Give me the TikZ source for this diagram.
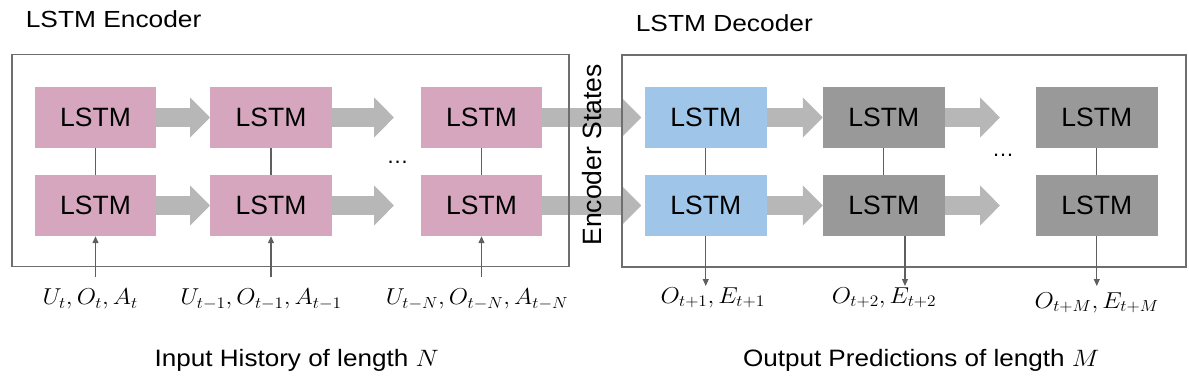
\documentclass[tikz,border=0pt]{standalone}
\usepackage{fix-cm}
\usepackage[no-math]{fontspec}
\usepackage{graphicx}
\newfontfamily\arial{Liberation Sans}
\usetikzlibrary{arrows.meta}
\definecolor{pinkc}{HTML}{D5A6BD}
\definecolor{bluec}{HTML}{9FC5E8}
\definecolor{grayc}{HTML}{999999}
\definecolor{arrowc}{HTML}{B7B7B7}
\definecolor{linec}{HTML}{5F5F5F}
\definecolor{framec}{HTML}{6E6E6E}
\tikzset{
  lstm/.style={minimum width=121.5pt, minimum height=61pt, inner sep=0pt,
    font=\arial\fontsize{26.5}{30}\selectfont, text=black},
  encbox/.style={lstm, fill=pinkc},
  decbox/.style={lstm, fill=bluec},
  graybox/.style={lstm, fill=grayc},
  blockarrow/.style={draw=arrowc, line width=19.5pt, -{Triangle[length=20pt,width=39pt]}},
  frame/.style={draw=framec, line width=1.4pt, inner sep=0pt},
  link/.style={draw=linec, line width=1.2pt},
  thinarrow/.style={draw=linec, line width=1.2pt, -{Triangle[length=7pt,width=6pt]}},
  mathlabel/.style={anchor=base, inner sep=0pt, font=\fontsize{23}{26}\selectfont},
  title/.style={anchor=base west, inner sep=0pt, font=\arial\fontsize{23.3}{26}\selectfont},
  caption/.style={anchor=base, inner sep=0pt, font=\arial\fontsize{23.7}{26}\selectfont},
  dotsnode/.style={anchor=base, inner sep=0pt, font=\arial\fontsize{22}{24}\selectfont},
}
\begin{document}
\begin{tikzpicture}[x=1pt,y=-1pt]
\useasboundingbox (0,0) rectangle (1189,382);
% LSTM boxes
\node[encbox] (e1a) at (95.5,117.5) {LSTM};
\node[encbox] (e2a) at (271,117.5) {LSTM};
\node[encbox] (e3a) at (481.5,117.5) {LSTM};
\node[encbox] (e1b) at (95.5,205.5) {LSTM};
\node[encbox] (e2b) at (271,205.5) {LSTM};
\node[encbox] (e3b) at (481.5,205.5) {LSTM};
\node[decbox] (d1a) at (705.75,117.5) {LSTM};
\node[graybox] (d2a) at (883.75,117.5) {LSTM};
\node[graybox] (d3a) at (1096.75,117.5) {LSTM};
\node[decbox] (d1b) at (705.75,205.5) {LSTM};
\node[graybox] (d2b) at (883.75,205.5) {LSTM};
\node[graybox] (d3b) at (1096.75,205.5) {LSTM};
% free ends
\coordinate (ea) at (394,117.5);
\coordinate (eb) at (394,205.5);
\coordinate (da) at (1000,117.5);
\coordinate (db) at (1000,205.5);
% block arrows
\draw[blockarrow] (e1a.east) -- (e2a.west);
\draw[blockarrow] (e2a.east) -- (ea);
\draw[blockarrow] (e1b.east) -- (e2b.west);
\draw[blockarrow] (e2b.east) -- (eb);
\draw[blockarrow, shorten >=3.5pt] (e3a.east) -- (d1a.west);
\draw[blockarrow, shorten >=3.5pt] (e3b.east) -- (d1b.west);
\draw[blockarrow] (d1a.east) -- (d2a.west);
\draw[blockarrow] (d2a.east) -- (da);
\draw[blockarrow] (d1b.east) -- (d2b.west);
\draw[blockarrow] (d2b.east) -- (db);
% frames
\node[frame, minimum width=557pt, minimum height=212pt] (encframe) at (290.5,160.5) {};
\node[frame, minimum width=564pt, minimum height=212pt] (decframe) at (904,161) {};
% vertical links
\foreach \n in {e1,e2,e3,d1,d2,d3}{
  \draw[link] (\n a.south) -- (\n b.north);
}
% dots
\node[dotsnode] (dotsenc) at (397.6,164) {\ldots};
\node[dotsnode] (dotsdec) at (1003,157) {\ldots};
% input arrows
\coordinate (in1) at (95.5,277);
\coordinate (in2) at (271,277);
\coordinate (in3) at (481.5,277);
\draw[thinarrow] (in1) -- (e1b.south);
\draw[thinarrow] (in2) -- (e2b.south);
\draw[thinarrow] (in3) -- (e3b.south);
% output arrows
\coordinate (out1) at (705.75,286);
\coordinate (out2) at (905,286);
\coordinate (out3) at (1096.75,286);
\draw[thinarrow] (d1b.south) -- (out1);
\draw[thinarrow] (d2b.south -| out2) -- (out2);
\draw[thinarrow] (d3b.south) -- (out3);
% encoder states
\node[rotate=90, inner sep=0pt, font=\arial\fontsize{26.5}{30}\selectfont] (es) at (592,155) {Encoder States};
% math labels
\node[mathlabel] (lin1) at (90.3,305) {\scalebox{1.08}[1]{$U_t, O_t, A_t$}};
\node[mathlabel] (lin2) at (261,305) {\scalebox{1.08}[1]{$U_{t-1}, O_{t-1}, A_{t-1}$}};
\node[mathlabel] (lin3) at (477,305) {\scalebox{1.08}[1]{$U_{t-N}, O_{t-N}, A_{t-N}$}};
\node[mathlabel] (lout1) at (712.7,303) {\scalebox{1.08}[1]{$O_{t+1}, E_{t+1}$}};
\node[mathlabel] (lout2) at (884,303) {\scalebox{1.08}[1]{$O_{t+2}, E_{t+2}$}};
\node[mathlabel] (lout3) at (1096.7,308) {\scalebox{1.08}[1]{$O_{t+M}, E_{t+M}$}};
% titles
\node[title] (tenc) at (25.6,27.7) {\scalebox{1.13}[1]{LSTM Encoder}};
\node[title] (tdec) at (635.6,32) {\scalebox{1.13}[1]{LSTM Decoder}};
% captions
\node[caption] (cin) at (296.7,366) {\scalebox{1.1}[1]{Input History of length $N$}};
\node[caption] (cout) at (921.2,366) {\scalebox{1.1}[1]{Output Predictions of length $M$}};
\end{tikzpicture}
\end{document}
